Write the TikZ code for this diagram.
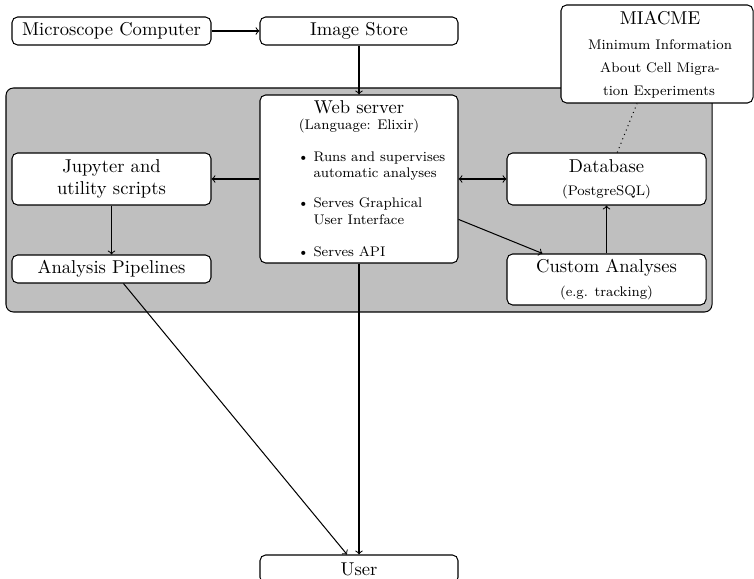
\documentclass[tikz,border=0pt]{standalone}
\usetikzlibrary{calc}
\newcommand\pxu{0.538pt}
\newcommand\smallfont{\fontsize{7.5}{9}\selectfont}
\begin{document}
\begin{tikzpicture}[x=0.538pt,y=-0.538pt, line width=0.55pt,
  box/.style={draw, fill=white, rounded corners=3pt, inner sep=0pt, align=center},
  region/.style={draw, fill=lightgray, rounded corners=4pt, inner sep=0pt},
  txt/.style={inner sep=0pt, anchor=base},
  small/.style={inner sep=0pt, anchor=base, font=\smallfont},
  itm/.style={inner sep=0pt, anchor=base west, font=\smallfont},
  arr/.style={->},
  darr/.style={<->}]
\useasboundingbox (0,0) rectangle (754,579);

% background region
\node[region, minimum width=706*\pxu, minimum height=224*\pxu] (core) at (359,200) {};

% boxes
\node[box, minimum width=199*\pxu, minimum height=28*\pxu] (mic) at (111.5,31) {Microscope Computer};
\node[box, minimum width=198*\pxu, minimum height=28*\pxu] (img) at (359,31) {Image Store};
\node[box, minimum width=198*\pxu, minimum height=168*\pxu] (web) at (359,179) {};
\node[box, minimum width=199*\pxu, minimum height=52*\pxu] (jup) at (111.5,179) {Jupyter and\\utility scripts};
\node[box, minimum width=199*\pxu, minimum height=28*\pxu] (ana) at (111.5,269) {Analysis Pipelines};
\node[box, minimum width=199*\pxu, minimum height=52*\pxu] (db) at (606.5,179) {};
\node[box, minimum width=199*\pxu, minimum height=51*\pxu] (cus) at (606.5,279.5) {};
\node[box, minimum width=192*\pxu, minimum height=98*\pxu] (mia) at (657,54) {};
\node[box, minimum width=198*\pxu, minimum height=28*\pxu] (user) at (359,569) {User};

% web server texts
\node[txt] (webt) at (359,114) {Web server};
\node[small] (webl) at (359,130) {(Language: Elixir)};
\node[itm] (b1) at (297,161.7) {\textbullet};
\node[itm] (i1a) at (313,161.7) {Runs and supervises};
\node[itm] (i1b) at (313,177.7) {automatic analyses};
\node[itm] (b2) at (297,208) {\textbullet};
\node[itm] (i2a) at (313,208) {Serves Graphical};
\node[itm] (i2b) at (313,225) {User Interface};
\node[itm] (b3) at (297,256.7) {\textbullet};
\node[itm] (i3a) at (313,256.7) {Serves API};

% database texts
\node[txt] (dbt) at (606.5,173) {Database};
\node[small] (dbs) at (606.5,196) {(PostgreSQL)};

% custom analyses texts
\node[txt] (cust) at (606.5,273) {Custom Analyses};
\node[small] (cuss) at (606.5,296.5) {(e.g. tracking)};

% MIACME texts
\node[txt] (miat) at (660,25) {MIACME};
\node[small] (mia1) at (660,49.3) {Minimum Information};
\node[small] (mia2) at (660,72.7) {About Cell Migra-};
\node[small] (mia3) at (659,96) {tion Experiments};

% connectors
\draw[arr] (mic) -- (img);
\draw[arr] (img) -- (web);
\draw[arr] (web) -- (jup);
\draw[arr] (jup) -- (ana);
\draw[darr] (web) -- (db);
\draw[arr] (web) -- (cus);
\draw[arr] (cus) -- (db);
\draw[dotted] (db) -- (mia);
\draw[arr] (ana) -- (user);
\draw[arr] (web) -- (user);
\end{tikzpicture}
\end{document}
